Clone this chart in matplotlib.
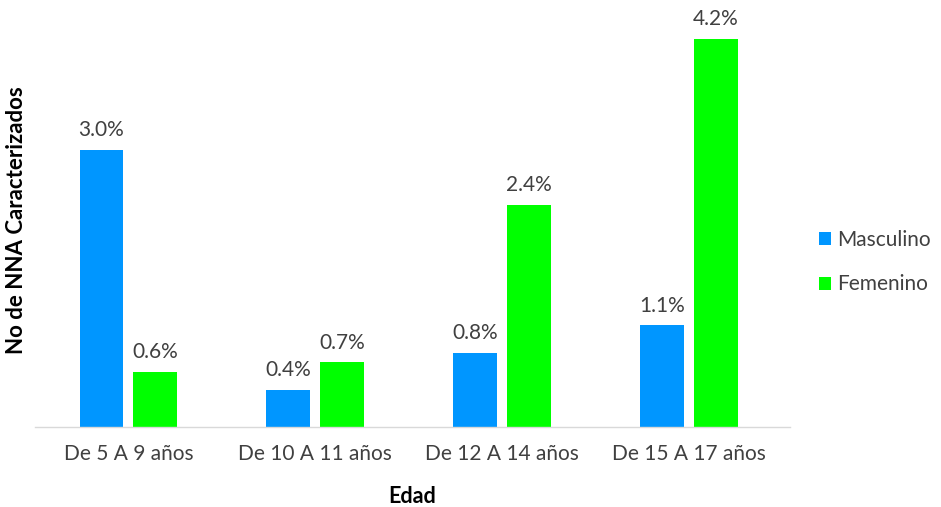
import numpy as np
import matplotlib
matplotlib.use("Agg")
import matplotlib.pyplot as plt

plt.rcParams["font.family"] = ["Lato", "DejaVu Sans"]

categories = ["De 5 A 9 años", "De 10 A 11 años", "De 12 A 14 años", "De 15 A 17 años"]
masculino = [3.0, 0.4, 0.8, 1.1]
femenino = [0.6, 0.7, 2.4, 4.2]
series_names = ["Masculino", "Femenino"]

BLUE = "#0096FF"
GREEN = "#00FF00"
TEXT = "#404040"

fig = plt.figure(figsize=(9.41, 5.07), dpi=100)
ax = fig.add_axes([35 / 941, 80 / 507, 755 / 941, 416 / 507])

x = np.arange(len(categories))
w = 0.235
off = 0.144
b1 = ax.bar(x - off, masculino, w, color=BLUE, label=series_names[0])
b2 = ax.bar(x + off, femenino, w, color=GREEN, label=series_names[1])

for bars, vals in ((b1, masculino), (b2, femenino)):
    for r, v in zip(bars, vals):
        ax.annotate(f"{v:.1f}%", (r.get_x() + r.get_width() / 2, v),
                    xytext=(0, 7), textcoords="offset points",
                    ha="center", va="bottom", fontsize=15, color=TEXT)

ax.set_xlim(-0.5, 3.54)
ax.set_ylim(0, 4.5)
ax.set_xticks(x)
ax.set_xticklabels(categories, fontsize=15, color=TEXT)
ax.tick_params(axis="x", length=0, pad=12)
ax.set_yticks([])
for s in ["top", "right", "left"]:
    ax.spines[s].set_visible(False)
ax.spines["bottom"].set_color("#D9D9D9")
ax.spines["bottom"].set_linewidth(1.0)

ax.set_xlabel("Edad", fontsize=15.5, fontweight="bold", color="black", labelpad=16)
fig.text(17 / 941, 1 - 220 / 507, "No de NNA Caracterizados", rotation=90,
         ha="center", va="center", fontsize=16, fontweight="bold", color="black")

fig.legend(handles=[b1, b2], loc="center left", bbox_to_anchor=(800 / 941, 1 - 262 / 507),
           frameon=False, fontsize=15, handlelength=0.6, handleheight=0.6,
           handletextpad=0.3, labelspacing=1.2, labelcolor=TEXT)

fig.savefig("out.png", dpi=100, facecolor="white")
